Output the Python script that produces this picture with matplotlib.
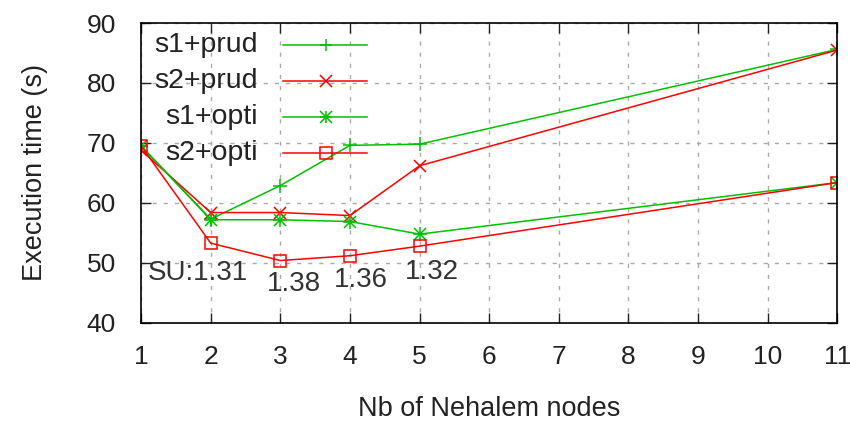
import numpy as np
import matplotlib.pyplot as plt
from matplotlib.lines import Line2D

plt.rcParams['font.family'] = ['Liberation Sans', 'DejaVu Sans']

nodes = [1, 2, 3, 4, 5, 11]
s1_prud = [69.5, 57.3, 62.9, 69.6, 69.8, 85.6]
s2_prud = [68.8, 58.4, 58.4, 57.9, 66.2, 85.5]
s1_opti = [69.5, 57.2, 57.2, 56.9, 54.8, 63.4]
s2_opti = [69.5, 53.3, 50.4, 51.2, 52.8, 63.4]

speedup_labels = ["SU:1.31", "1.38", "1.36", "1.32"]
speedup_x = [1.1, 3.19, 4.15, 5.17]
speedup_y = [48.4, 46.5, 47.2, 48.5]
speedup_ha = ["left", "center", "center", "center"]

green = "#00c000"
red = "#ff0000"

fig = plt.figure(figsize=(8.5, 4.26), dpi=100)
ax = fig.add_axes([0.166, 0.242, 0.819, 0.704])

ax.plot(nodes, s1_prud, color=green, lw=1.1, marker="+", ms=10, mew=1.1)
ax.plot(nodes, s2_prud, color=red, lw=1.1, marker="x", ms=9, mew=1.1)
ax.plot(nodes, s1_opti, color=green, lw=1.1, marker="+", ms=10, mew=1.1)
ax.plot(nodes, s1_opti, color=green, lw=0, marker="x", ms=8, mew=1.1)
ax.plot(nodes, s2_opti, color=red, lw=1.1, marker="s", ms=9, mew=1.1,
        mfc="none")

for lab, x, y, ha in zip(speedup_labels, speedup_x, speedup_y, speedup_ha):
    ax.text(x, y, lab, fontsize=20, ha=ha, va="center", color="#333333")

# gnuplot-style key: label right-aligned, sample to the right
key = [("s1+prud", green, ["+"]), ("s2+prud", red, ["x"]),
       ("s1+opti", green, ["+", "x"]), ("s2+opti", red, ["s"])]
for i, (lab, col, mks) in enumerate(key):
    yk = 0.927 - i * 0.12
    ax.text(0.168, yk, lab, transform=ax.transAxes, fontsize=20.5,
            ha="right", va="center", color="#222222")
    ax.add_line(Line2D([0.204, 0.325], [yk, yk], transform=ax.transAxes,
                       color=col, lw=1.1))
    for m in mks:
        ax.add_line(Line2D([0.265], [yk], transform=ax.transAxes, color=col,
                           lw=0, marker=m, ms=9, mew=1.1, mfc="none"))

ax.set_xlim(1, 11)
ax.set_ylim(40, 90)
ax.set_xticks(range(1, 12))
ax.set_yticks(range(40, 91, 10))
ax.tick_params(direction="in", length=7, width=1, top=True, right=True,
               labelsize=19, colors="#222222")
ax.tick_params(axis="y", pad=18)
ax.tick_params(axis="x", pad=16)
ax.grid(True, color="#aaaaaa", linestyle=(0, (3, 5)), lw=1)
for sp in ax.spines.values():
    sp.set_linewidth(1.2)

ax.set_xlabel("Nb of Nehalem nodes", fontsize=19.5, labelpad=19, color="#222222")
ax.set_ylabel("Execution time (s)", fontsize=19.5, labelpad=28, color="#222222")

fig.savefig("out.png", dpi=100)
